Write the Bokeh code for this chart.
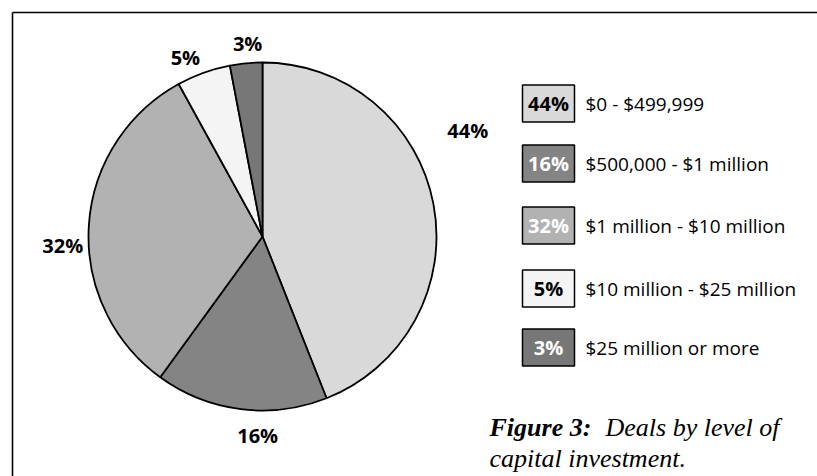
import math
from bokeh.plotting import figure
from bokeh.models import Range1d, ColumnDataSource
from bokeh.core.properties import value
from bokeh.embed import file_html
from bokeh.resources import INLINE

# ---- data ----
categories = ["$0 - $499,999", "$500,000 - $1 million", "$1 million - $10 million",
              "$10 million - $25 million", "$25 million or more"]
shares = [44, 16, 32, 5, 3]
pct_labels = ["44%", "16%", "32%", "5%", "3%"]
caption_bold = "Figure 3:"
caption_line1 = "Deals by level of"
caption_line2 = "capital investment."

# ---- style / layout ----
slice_colors = ["#d9d9d9", "#848484", "#b2b2b2", "#f4f4f4", "#777777"]
legend_text_colors = ["black", "white", "white", "black", "white"]
label_angle_deg = [62.7, 181.4, 267.4, 336.7, 355.6]   # clockwise from top
label_radius = [231, 199, 200, 195, 194]

W, H = 817, 476
def Y(py):
    return H - py

cx, cy, R = 262, Y(236), 174

p = figure(width=W, height=H, output_backend="svg", toolbar_location=None,
           x_range=Range1d(0, W), y_range=Range1d(0, H), min_border=0)
p.axis.visible = False
p.grid.visible = False
p.outline_line_color = None
p.background_fill_color = "white"
p.border_fill_color = "white"

# frame (top and left edges)
p.segment(x0=[12, 12], y0=[Y(12), Y(12)], x1=[W, 12], y1=[Y(12), Y(H)],
          line_color="black", line_width=1.6)

# pie
total = sum(shares)
starts, ends = [], []
cum = 0.0
for s in shares:
    a0 = math.pi / 2 - 2 * math.pi * cum / total
    cum += s
    a1 = math.pi / 2 - 2 * math.pi * cum / total
    starts.append(a0)
    ends.append(a1)
src = ColumnDataSource(dict(start=starts, end=ends, color=slice_colors))
p.wedge(x=cx, y=cy, radius=R, start_angle="start", end_angle="end",
        direction="clock", fill_color="color", line_color="black",
        line_width=1.8, source=src)

# pie labels
lx = [cx + r * math.sin(math.radians(a)) for a, r in zip(label_angle_deg, label_radius)]
ly = [cy + r * math.cos(math.radians(a)) for a, r in zip(label_angle_deg, label_radius)]
p.text(x=lx, y=ly, text=pct_labels, text_font=value("Open Sans"),
       text_font_size="20px", text_font_style="bold", text_align="center",
       text_baseline="middle", text_color="black")

# legend
leg_y = [Y(v) for v in [103, 163, 225, 288, 347]]
box_x = 548
p.rect(x=[box_x] * 5, y=leg_y, width=52, height=37, fill_color=slice_colors,
       line_color="black", line_width=1.5)
p.text(x=[box_x] * 5, y=leg_y, text=pct_labels, text_font=value("Open Sans"),
       text_font_size="20px", text_font_style="bold", text_align="center",
       text_baseline="middle", text_color=legend_text_colors)
p.text(x=[585] * 5, y=leg_y, text=categories, text_font=value("Open Sans"),
       text_font_size="19px", text_align="left", text_baseline="middle",
       text_color="black")

# caption
p.text(x=[489], y=[Y(427)], text=[caption_bold], text_font=value("Liberation Serif"),
       text_font_size="26px", text_font_style="bold italic", text_align="left",
       text_baseline="alphabetic", text_color="black")
p.text(x=[605], y=[Y(427)], text=[caption_line1], text_font=value("Liberation Serif"),
       text_font_size="26px", text_font_style="italic", text_align="left",
       text_baseline="alphabetic", text_color="black")
p.text(x=[489], y=[Y(458)], text=[caption_line2], text_font=value("Liberation Serif"),
       text_font_size="26px", text_font_style="italic", text_align="left",
       text_baseline="alphabetic", text_color="black")

open("out.html", "w").write(file_html(p, INLINE))
